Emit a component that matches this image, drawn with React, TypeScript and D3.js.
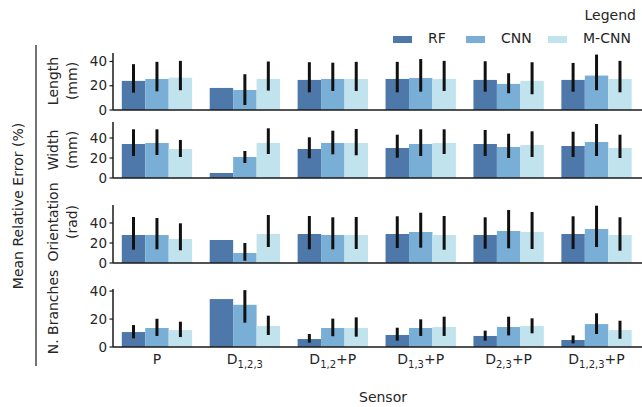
import * as d3 from "d3";

// sensor groups (x axis), "_{..}" marks a subscript
const categories = ["P", "D_{1,2,3}", "D_{1,2}+P", "D_{1,3}+P", "D_{2,3}+P", "D_{1,2,3}+P"];
const seriesNames = ["RF", "CNN", "M-CNN"];
const seriesColors = ["#4e77aa", "#79afd6", "#c1e3ee"];
const yTicks = [0, 20, 40];

// rows: RF, CNN, M-CNN ; null = no error bar
const lengthMean = [
  [24, 18.2, 24.8, 25.6, 24.8, 24.8],
  [25.6, 16.5, 25.6, 26.4, 21.5, 28.4],
  [26.7, 25.6, 25.6, 25.6, 24, 25.6],
];
const lengthLow = [
  [14.3, null, 14.6, 14.6, 15.1, 15.1],
  [15.4, 4.1, 15.7, 15.1, 13.8, 16.3],
  [16.3, 16, 15.7, 15.7, 13, 14.6],
];
const lengthHigh = [
  [37.8, null, 39.4, 39.7, 40.2, 38.8],
  [39.7, 29.5, 39, 42, 30.3, 45.7],
  [40.5, 40, 39.7, 40.5, 39.4, 40.5],
];

const widthMean = [
  [34, 5, 29, 30, 34, 32],
  [35, 21, 35, 34, 31, 36],
  [29, 35, 35, 35, 33, 30],
];
const widthLow = [
  [22, null, 19.7, 20.3, 22, 21],
  [23, 15, 23.7, 22, 20, 22],
  [21, 24, 22.7, 24, 21, 20],
];
const widthHigh = [
  [48.7, null, 40.7, 43.3, 48, 46.3],
  [48.7, 27, 47.3, 48.7, 44.3, 54],
  [38, 49.7, 49, 48.7, 46.7, 43.3],
];

const orientMean = [
  [28, 23, 29, 29, 28, 29],
  [28, 10, 28, 31, 32, 34],
  [24, 29, 28, 28, 31, 28],
];
const orientLow = [
  [13.3, null, 13.7, 15, 14.3, 14],
  [13.7, 2.3, 13.7, 15.3, 14.7, 16],
  [12.7, 16, 14, 13.3, 14, 12.3],
];
const orientHigh = [
  [46, null, 47, 46.7, 45.7, 46.7],
  [45, 20, 45.7, 50.3, 53, 57.3],
  [39.7, 48, 46, 47, 51, 45.7],
];

const branchMean = [
  [10.7, 34.3, 5.7, 8.6, 7.9, 5],
  [13.6, 30.2, 13.6, 13.6, 14.3, 16.4],
  [12.1, 15, 13.6, 14.3, 15, 12.1],
];
const branchLow = [
  [6.2, null, 3.1, 4.5, 4.5, 2.6],
  [7.9, 17.4, 7.7, 7.9, 8.3, 9.3],
  [7.1, 8.6, 7.4, 7.9, 9.8, 5.9],
];
const branchHigh = [
  [15.7, null, 9.3, 13.8, 11.7, 8.3],
  [20.2, 40.7, 20.3, 19.8, 21.7, 24.1],
  [18.1, 22.4, 21.2, 21.7, 20.5, 18.8],
];

const panels = [
  { label: ["Length", "(mm)"], mean: lengthMean, low: lengthLow, high: lengthHigh, max: 47, top: 53, bottom: 110, labelY: 81 },
  { label: ["Width", "(mm)"], mean: widthMean, low: widthLow, high: widthHigh, max: 56, top: 122, bottom: 178, labelY: 150 },
  { label: ["Orientation", "(rad)"], mean: orientMean, low: orientLow, high: orientHigh, max: 58, top: 205, bottom: 263, labelY: 222 },
  { label: ["N. Branches"], mean: branchMean, low: branchLow, high: branchHigh, max: 41.5, top: 289, bottom: 347, labelY: 312 },
];

const W = 642;
const H = 407;
const left = 113;
const right = 640.5;
const font = "DejaVu Sans, Verdana, sans-serif";
const ink = "#262626";

function TickLabel({ x, y, text }: { x: number; y: number; text: string }) {
  const m = text.match(/^([^_]*)(?:_\{([^}]*)\})?(.*)$/);
  const main = m ? m[1] : text;
  const sub = m ? m[2] : undefined;
  const rest = m ? m[3] : "";
  return (
    <text x={x} y={y} textAnchor="middle" fontSize={14} fill={ink} fontFamily={font}>
      <tspan>{main}</tspan>
      {sub && (
        <tspan fontSize={10} dy={4}>
          {sub}
        </tspan>
      )}
      {rest && <tspan dy={sub ? -4 : 0}>{rest}</tspan>}
    </text>
  );
}

export default function App() {
  const x = d3.scaleBand<string>().domain(categories).range([left, right]).paddingInner(0.2).paddingOuter(0.1);
  const xs = d3.scaleBand<string>().domain(seriesNames).range([0, x.bandwidth()]);

  const legendX = [393, 466, 548];

  return (
    <svg width={W} height={H} style={{ position: "absolute", left: 0, top: 0, background: "#fff" }}>
      {panels.map((p, pi) => {
        const y = d3.scaleLinear().domain([0, p.max]).range([p.bottom, p.top]);
        return (
          <g key={pi}>
            {seriesNames.map((s, si) =>
              categories.map((c, ci) => {
                const v = p.mean[si][ci];
                const bx = (x(c) ?? 0) + (xs(s) ?? 0);
                return (
                  <rect
                    key={s + c}
                    x={bx}
                    y={y(v)}
                    width={xs.bandwidth()}
                    height={y(0) - y(v)}
                    fill={seriesColors[si]}
                  />
                );
              })
            )}
            {seriesNames.map((s, si) =>
              categories.map((c, ci) => {
                const lo = p.low[si][ci];
                const hi = p.high[si][ci];
                if (lo == null || hi == null) return null;
                const cx = (x(c) ?? 0) + (xs(s) ?? 0) + xs.bandwidth() / 2;
                return <line key={"e" + s + c} x1={cx} x2={cx} y1={y(lo)} y2={y(hi)} stroke="#111" strokeWidth={3} />;
              })
            )}
            {/* axes */}
            <line x1={left} x2={W} y1={p.bottom} y2={p.bottom} stroke="#1a1a1a" strokeWidth={1.5} />
            <line x1={left} x2={left} y1={p.top} y2={p.bottom} stroke="#1a1a1a" strokeWidth={1.5} />
            {yTicks.map((t) => (
              <g key={t}>
                <line x1={left - 3.5} x2={left} y1={y(t)} y2={y(t)} stroke="#1a1a1a" strokeWidth={1.2} />
                <text x={left - 6} y={y(t)} dy="0.35em" textAnchor="end" fontSize={13.5} fill={ink} fontFamily={font}>
                  {t}
                </text>
              </g>
            ))}
            <text
              transform={`translate(53,${p.labelY}) rotate(-90)`}
              textAnchor="middle"
              fontSize={14}
              fill={ink}
              fontFamily={font}
            >
              {p.label.map((l, li) => (
                <tspan key={li} x={0} dy={li === 0 ? "0.35em" : 19}>
                  {l}
                </tspan>
              ))}
            </text>
          </g>
        );
      })}

      {/* x tick labels on the bottom panel */}
      {categories.map((c) => (
        <TickLabel key={c} x={(x(c) ?? 0) + x.bandwidth() / 2} y={364} text={c} />
      ))}
      <text x={383} y={402} textAnchor="middle" fontSize={14} fill={ink} fontFamily={font}>
        Sensor
      </text>

      {/* shared y label */}
      <line x1={36} x2={36} y1={45} y2={366} stroke="#444" strokeWidth={1.5} />
      <text transform="translate(18,206) rotate(-90)" dy="0.35em" textAnchor="middle" fontSize={14} fill={ink} fontFamily={font}>
        Mean Relative Error (%)
      </text>

      {/* legend */}
      <text x={636} y={20} textAnchor="end" fontSize={14} fill={ink} fontFamily={font}>
        Legend
      </text>
      {seriesNames.map((s, si) => (
        <g key={s} transform={`translate(${legendX[si]},0)`}>
          <rect x={0} y={36} width={19} height={7} fill={seriesColors[si]} />
          <text x={35} y={43} fontSize={14} fill={ink} fontFamily={font}>
            {s}
          </text>
        </g>
      ))}
    </svg>
  );
}
